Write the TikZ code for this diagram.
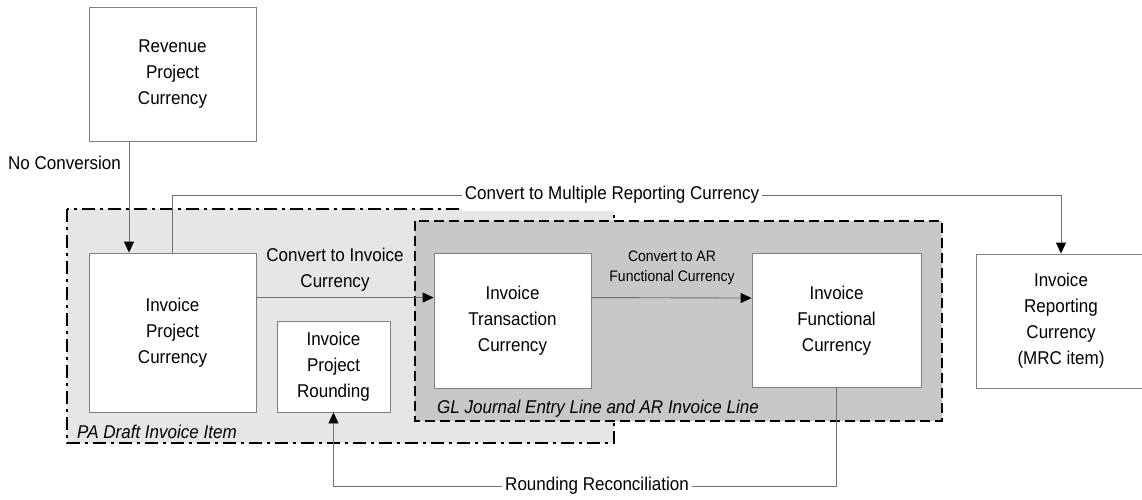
\documentclass[tikz,border=0pt]{standalone}
\usepackage{fontspec}
\setmainfont{Liberation Sans}[FakeStretch=0.92]
\usetikzlibrary{arrows.meta}
\definecolor{boxline}{HTML}{808080}
\definecolor{connline}{HTML}{707070}
\definecolor{pafill}{HTML}{E6E6E6}
\definecolor{glfill}{HTML}{C8C8C8}
\tikzset{
  cbox/.style={draw=boxline, line width=0.9pt, fill=white, align=center, inner sep=0pt,
    font=\fontsize{18.5}{26}\selectfont},
  connector/.style={draw=connline, line width=0.9pt},
  arr/.style={connector, -{Triangle[length=11pt,width=10pt,color=black,fill=black]}},
  lbl/.style={font=\fontsize{18.5}{26}\selectfont, align=center, inner sep=2pt},
  smalllbl/.style={font=\fontsize{15.2}{20}\selectfont, align=center, inner sep=2pt},
  cutlbl/.style={lbl, fill=white, inner xsep=3pt, inner ysep=0pt},
  regionlbl/.style={font=\fontsize{18.5}{20}\selectfont\itshape, anchor=west, inner sep=0pt},
  paregion/.style={fill=pafill, draw=black, line width=1.2pt, dash pattern=on 13pt off 5pt on 3pt off 5pt},
  glregion/.style={fill=glfill, draw=black, line width=1.2pt, dash pattern=on 10pt off 5pt},
}
\begin{document}
\begin{tikzpicture}[x=1pt,y=-1pt]
\useasboundingbox (0,0) rectangle (1142,500);
\fill[white] (0,0) rectangle (1142,500);

% regions
\draw[paregion] (67,209) rectangle (614,443);
\node[regionlbl] (palbl) at (77,432) {PA Draft Invoice Item};
\draw[glregion] (415,221) rectangle (942,421);
\node[regionlbl] (gllbl) at (437,409) {GL Journal Entry Line and AR Invoice Line};

% boxes
\node[cbox, minimum width=167pt, minimum height=134pt] (rev) at (172.5,74) {Revenue\\Project\\Currency};
\node[cbox, minimum width=167pt, minimum height=159pt] (ipc) at (172.5,332.5) {Invoice\\Project\\Currency};
\node[cbox, minimum width=113pt, minimum height=91pt] (rnd) at (333.5,366.5) {Invoice\\Project\\Rounding};
\node[cbox, minimum width=157pt, minimum height=135pt] (tr) at (512.5,320.5) {Invoice\\Transaction\\Currency};
\node[cbox, minimum width=169pt, minimum height=134pt] (fun) at (836.5,320.5) {Invoice\\Functional\\Currency};
\node[cbox, minimum width=170pt, minimum height=134pt] (rep) at (1061,321) {Invoice\\Reporting\\Currency\\(MRC item)};

% no conversion
\draw[arr] ([xshift=-43.5pt]rev.south) -- ([xshift=-43.5pt]ipc.north);
\node[lbl, anchor=west, inner sep=0pt] (nc) at (8,163) {No Conversion};

% convert to invoice currency
\draw[arr] ([yshift=-45pt]ipc.north east) -- ([yshift=-45pt]tr.north west);
\node[lbl] (cic) at (335,270) {Convert to Invoice\\Currency};

% convert to AR functional
\draw[arr] ([yshift=-45pt]tr.north east) -- ([yshift=-45pt]fun.north west);
\node[smalllbl] (caf) at (672,268) {Convert to AR\\Functional Currency};

% MRC
\node[cutlbl, minimum height=32pt] (mrc) at (612,195) {Convert to Multiple Reporting Currency};
\draw[connector] (ipc.north) |- (mrc.west);
\draw[arr] (mrc.east) -| (rep.north);

% rounding reconciliation
\node[cutlbl, minimum height=20pt] (rr) at (597,486) {Rounding Reconciliation};
\draw[connector] (fun.south) |- (rr.east);
\draw[arr] (rr.west) -| (rnd.south);
\end{tikzpicture}
\end{document}
